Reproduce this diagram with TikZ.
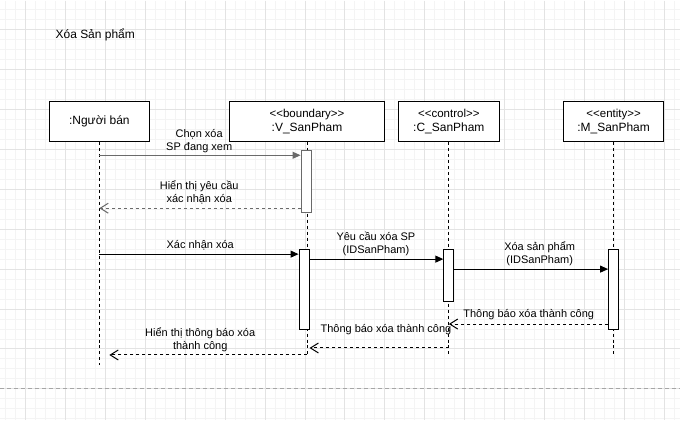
\documentclass[tikz,border=0pt]{standalone}
\usepackage{fontspec}
\setmainfont{Liberation Sans}
\usetikzlibrary{arrows.meta}
\definecolor{selgray}{HTML}{6A6A6A}
\definecolor{gridmajor}{HTML}{E3E3E3}
\definecolor{gridminor}{HTML}{F4F4F4}
\newcommand{\stereo}[1]{<\kern0pt<#1>\kern0pt>}

\begin{document}
\begin{tikzpicture}[x=1pt,y=-1pt,
	every node/.style={font=\fontsize{11}{13}\selectfont, align=center, inner sep=0pt},
	obj/.style={draw, line width=1pt, fill=white, minimum height=40pt, font=\fontsize{12}{14}\selectfont},
	act/.style={draw, line width=1pt, fill=white, minimum width=10pt},
	life/.style={line width=1pt, dash pattern=on 3pt off 3pt},
	call/.style={line width=1pt, -{Triangle[length=8pt,width=7pt]}},
	reply/.style={line width=1pt, dash pattern=on 3pt off 3pt, -{Straight Barb[length=8pt,width=10pt]}}]
	
	\fill[white] (0,0) rectangle (680,420);
	\foreach \i in {5,15,...,675} \draw[gridminor, line width=1pt] (\i,0) -- (\i,420);
	\foreach \j in {9,19,...,419} \draw[gridminor, line width=1pt] (0,\j) -- (680,\j);
	\foreach \i in {25,65,...,665} \draw[gridmajor, line width=1pt] (\i,0) -- (\i,420);
	\foreach \j in {29,69,...,389} \draw[gridmajor, line width=1pt] (0,\j) -- (680,\j);
	\draw[gray!70, line width=1pt, dash pattern=on 4pt off 3pt] (0,389) -- (680,389);
	
	\node[font=\fontsize{12}{14}\selectfont, anchor=west] (title) at (55,34) {Xóa Sản phẩm};
	
	\node[obj, minimum width=100pt] (nb) at (99,121) {:Người bán};
	\node[obj, minimum width=156pt] (vsp) at (307,121) {\fontsize{11.5}{14}\selectfont \stereo{boundary}\\:V\_SanPham};
	\node[obj, minimum width=101pt] (csp) at (449,121) {\fontsize{11.5}{14}\selectfont \stereo{control}\\:C\_SanPham};
	\node[obj, minimum width=100pt] (msp) at (614,121) {\fontsize{11.5}{14}\selectfont \stereo{entity}\\:M\_SanPham};
	
	\draw[life] (nb.south) -- (nb.south |- 0,365);
	\draw[life] (vsp.south) -- (vsp.south |- 0,355);
	\draw[life] (csp.south) -- (csp.south |- 0,355);
	\draw[life] (msp.south) -- (msp.south |- 0,355);
	
	\node[act, draw=selgray, minimum height=62pt] (a1) at (306,181) {};
	\node[act, minimum height=80pt] (a2) at (304,289) {};
	\node[act, minimum height=52pt] (a3) at (449,275) {};
	\node[act, minimum height=80pt] (a4) at (614,289) {};
	
	\draw[call, draw=selgray] (nb.south |- 0,155) -- (a1.west |- 0,155);
	\node (l1) at (199,140.5) {Chọn xóa\\SP đang xem};
	\draw[reply, draw=selgray] (a1.west |- 0,208) -- (nb.south |- 0,208);
	\node (l2) at (199,192.5) {Hiển thị yêu cầu\\xác nhận xóa};
	\draw[call] (nb.south |- 0,254) -- (a2.west |- 0,254);
	\node (l3) at (200,245) {Xác nhận xóa};
	\draw[call] (a2.east |- 0,259) -- (a3.west |- 0,259);
	\node (l4) at (376,243.5) {Yêu cầu xóa SP\\(IDSanPham)};
	\draw[call] (a3.east |- 0,269) -- (a4.west |- 0,269);
	\node (l5) at (540,254) {Xóa sản phẩm\\(IDSanPham)};
	\draw[reply] (a4.west |- 0,324) -- (csp.south |- 0,324);
	\node (l6) at (529,315) {Thông báo xóa thành công};
	\draw[reply] (csp.south |- 0,348) -- (a2.east |- 0,348);
	\node (l7) at (386,330) {Thông báo xóa thành công};
	\draw[reply, shorten >=10pt] (vsp.south |- 0,355) -- (nb.south |- 0,355);
	\node (l8) at (200,340) {Hiển thị thông báo xóa\\thành công};
\end{tikzpicture}
\end{document}
